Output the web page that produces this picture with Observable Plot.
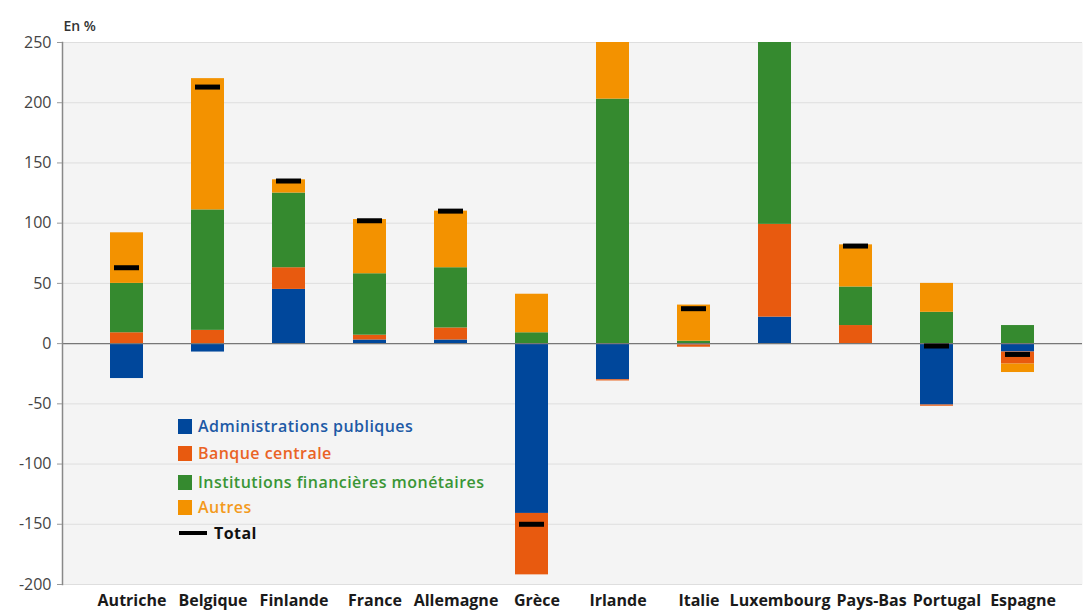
<!DOCTYPE html>
<html>
<head>
<meta charset="utf-8">
<script src="https://cdn.jsdelivr.net/npm/d3@7"></script>
<script src="https://cdn.jsdelivr.net/npm/@observablehq/plot@0.6"></script>
<style>
  body { margin: 0; background: white; font-family: "Open Sans", sans-serif; }
  #wrap { position: relative; width: 1086px; height: 611px; overflow: hidden; }
  .row { position: absolute; left: 178px; display: flex; align-items: center; height: 16px; white-space: nowrap; font-size: 16px; font-weight: 600; letter-spacing: 0.45px; line-height: 1; }
  .sw { width: 14px; height: 15px; margin-right: 6px; }
  .ln { width: 28px; height: 4px; background: #000; margin-right: 7px; margin-left: 1px; }
</style>
</head>
<body>
<div id="wrap">
  <div id="chart"></div>
</div>
<script>
const countries = ["Autriche","Belgique","Finlande","France","Allemagne","Grèce","Irlande","Italie","Luxembourg","Pays-Bas","Portugal","Espagne"];
const seriesNames = ["Administrations publiques","Banque centrale","Institutions financières monétaires","Autres"];
const seriesColors = ["#00479b","#e85a0f","#358a2f","#f39200"];
const legendTextColors = ["#1d5aa6","#ea6325","#3a9636","#f39a1c"];
const adminPub       = [-29, -7, 45,  3,  3, -141, -30, -1,  22,  0, -51,  -7];
const banqueCentrale = [  9, 11, 18,  4, 10,  -51,  -1, -2,  77, 15,  -1, -10];
const ifm            = [ 41,100, 62, 51, 50,    9, 203,  2, 190, 32,  26,  15];
const autres         = [ 42,109, 11, 45, 47,   32,  80, 30,   0, 35,  24,  -7];
const total          = [ 63,213,135,102,110, -150, null, 29, null, 81, -2, -9];
const yTicks = [-200,-150,-100,-50,0,50,100,150,200,250];

const seriesValues = [adminPub, banqueCentrale, ifm, autres];
const rows = [];
seriesValues.forEach((vals, s) => {
  countries.forEach((c, i) => rows.push({country: c, series: seriesNames[s], value: vals[i]}));
});
const totals = countries.map((c, i) => ({country: c, value: total[i]})).filter(d => d.value != null);

const chart = Plot.plot({
  width: 1086,
  height: 611,
  marginTop: 42,
  marginBottom: 27,
  marginLeft: 62,
  marginRight: 4,
  style: {fontFamily: "Open Sans", fontSize: "14px", background: "white", overflow: "visible"},
  x: {domain: countries, padding: 0.59, label: null},
  y: {domain: [-200, 250], label: null},
  color: {domain: seriesNames, range: seriesColors},
  marks: [
    Plot.frame({fill: "#f4f4f4", stroke: null}),
    Plot.gridY(yTicks, {stroke: "#dedede", strokeOpacity: 1}),
    Plot.barY(rows, {x: "country", y: "value", fill: "series", clip: true}),
    Plot.ruleY([0], {stroke: "#777", strokeWidth: 1.2}),
    Plot.tickY(totals, {x: "country", y: "value", stroke: "#000", strokeWidth: 5, inset: 4, clip: true}),
    Plot.frame({anchor: "left", stroke: "#888", strokeWidth: 1.5}),
    Plot.axisY(yTicks, {tickSize: 5, tickPadding: 6, stroke: "#999", fill: "#444", fontSize: 16, tickFormat: d => String(d)}),
    Plot.axisX({tickSize: 0, tickPadding: 10, dx: 5, fill: "#1a1a1a", fontSize: 16, fontWeight: 700, label: null}),
    Plot.text(["En %"], {frameAnchor: "top-left", dy: -21, dx: 1, textAnchor: "start", fontSize: 14, fontWeight: 600, fill: "#333"})
  ]
});
document.getElementById("chart").appendChild(chart);

// nudge x-axis labels rightwards where they would overlap their left neighbour
const labels = Array.from(chart.querySelectorAll('g[aria-label="x-axis tick label"] text'));
let prevRight = -Infinity;
labels.forEach(t => {
  const r = t.getBoundingClientRect();
  let shift = 0;
  if (r.left < prevRight + 6) shift = prevRight + 6 - r.left;
  if (shift > 0) t.setAttribute("transform", (t.getAttribute("transform") || "") + ` translate(${shift},0)`);
  prevRight = r.right + shift;
});

const wrap = document.getElementById("wrap");
const rowCenters = [426, 453, 482, 507, 533];
seriesNames.forEach((name, i) => {
  const r = document.createElement("div");
  r.className = "row";
  r.style.top = (rowCenters[i] - 8) + "px";
  r.innerHTML = `<div class="sw" style="background:${seriesColors[i]}"></div><span style="color:${legendTextColors[i]}">${name}</span>`;
  wrap.appendChild(r);
});
const tr = document.createElement("div");
tr.className = "row";
tr.style.top = (rowCenters[4] - 8) + "px";
tr.innerHTML = `<div class="ln"></div><span style="color:#111;font-weight:700">Total</span>`;
wrap.appendChild(tr);
</script>
</body>
</html>
